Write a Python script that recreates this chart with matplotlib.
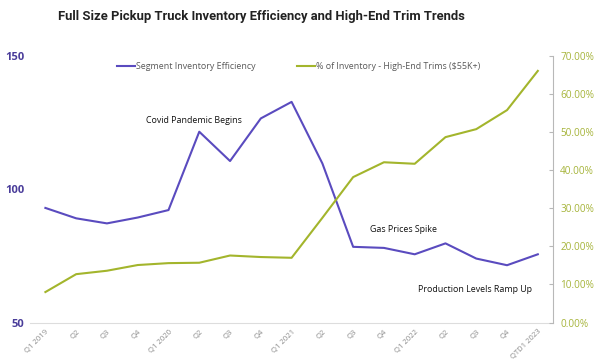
import matplotlib
matplotlib.use("Agg")
import matplotlib.pyplot as plt
import numpy as np

# quarters on the x axis
quarters = ["Q1 2019", "Q2", "Q3", "Q4", "Q1 2020", "Q2", "Q3", "Q4",
            "Q1 2021", "Q2", "Q3", "Q4", "Q1 2022", "Q2", "Q3", "Q4", "QTD1 2023"]

# segment inventory efficiency (left axis)
efficiency = [93.0, 89.1, 87.2, 89.4, 92.2, 121.6, 110.6, 126.6, 132.8,
              109.7, 78.4, 78.0, 75.6, 79.7, 74.0, 71.5, 75.6]

# % of inventory in high-end trims, $55K+ (right axis)
high_end_pct = [8.0, 12.7, 13.6, 15.1, 15.6, 15.7, 17.6, 17.2, 17.0,
                27.5, 38.2, 42.1, 41.7, 48.7, 50.8, 55.8, 66.1]

purple = "#5a4bbf"
green = "#a3b52c"

plt.rcParams['font.family'] = ['Open Sans', 'DejaVu Sans']

fig = plt.figure(figsize=(6, 3.64), dpi=100)
ax = fig.add_axes([0.05, 0.114, 0.872, 0.732])
ax2 = ax.twinx()

x = np.arange(len(quarters))
l1, = ax.plot(x, efficiency, color=purple, lw=1.5, label="Segment Inventory Efficiency")
l2, = ax2.plot(x, high_end_pct, color=green, lw=1.5, label="% of Inventory - High-End Trims ($55K+)")

ax.set_xlim(-0.5, len(quarters) - 0.5)
ax.set_ylim(50, 150)
ax.set_yticks([50, 100, 150])
ax2.set_ylim(0, 70)
ax2.set_yticks(np.arange(0, 71, 10))
ax2.set_yticklabels([f"{v:.2f}%" for v in np.arange(0, 71, 10)])

ax.set_xticks(x)
ax.set_xticklabels(quarters, rotation=45, ha="right", rotation_mode="anchor",
                   fontsize=5.5, color="#8a8a8a")
ax.tick_params(axis="x", length=0, pad=4)
ax.tick_params(axis="y", length=0, labelsize=8, labelcolor="#4a3d9a", pad=4)
for t in ax.get_yticklabels():
    t.set_fontweight("bold")
ax2.tick_params(axis="y", direction="in", length=3, color="#b8b8b8",
                labelsize=7.2, labelcolor="#a6b43a", pad=5)

for a in (ax, ax2):
    for s in ("top", "left"):
        a.spines[s].set_visible(False)
ax.spines["right"].set_visible(False)
ax.spines["bottom"].set_color("#dddddd")
ax2.spines["bottom"].set_visible(False)
ax2.spines["right"].set_color("#b8b8b8")

leg = ax.legend(handles=[l1, l2], loc="upper left", bbox_to_anchor=(0.155, 1.0),
                ncol=2, frameon=False, fontsize=6.4, handlelength=2.0,
                handletextpad=0.1, columnspacing=4.7, borderaxespad=0.3)
for t in leg.get_texts():
    t.set_color("#595959")

# annotations
ax.annotate("Covid Pandemic Begins", xy=(193.5 / 600, 1 - 120.7 / 364), xycoords="figure fraction",
            ha="center", va="center", fontsize=6.4, color="#111111")
ax.annotate("Gas Prices Spike", xy=(403 / 600, 1 - 229 / 364), xycoords="figure fraction",
            ha="center", va="center", fontsize=6.4, color="#111111")
ax.annotate("Production Levels Ramp Up", xy=(475 / 600, 1 - 289 / 364), xycoords="figure fraction",
            ha="center", va="center", fontsize=6.4, color="#111111")

fig.text(0.435, 0.955, "Full Size Pickup Truck Inventory Efficiency and High-End Trim Trends",
         ha="center", va="center", fontsize=9.4, fontweight="bold", color="#222222",
         family=["Roboto", "DejaVu Sans"])

fig.savefig("out.png", dpi=100)
